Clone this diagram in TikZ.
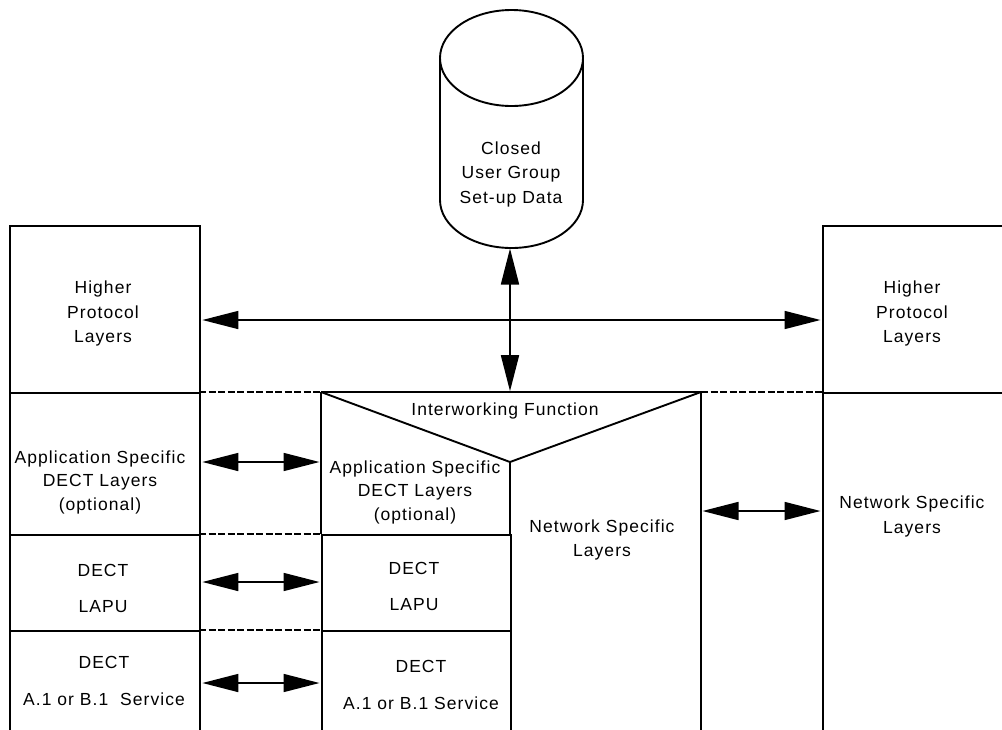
\documentclass[tikz,border=0pt]{standalone}
\usepackage{fontspec}
\setmainfont{Liberation Sans}[LetterSpace=6]
\usetikzlibrary{arrows.meta}
\begin{document}
\begin{tikzpicture}[x=1pt,y=-1pt,
  ln/.style={line width=1.9pt},
  dsh/.style={line width=1.4pt, dash pattern=on 7pt off 2.5pt},
  box/.style={draw, line width=1.9pt, rectangle, inner sep=0pt, anchor=north west},
  txt/.style={align=center, font=\fontsize{17.5}{24.5}\selectfont, inner sep=0pt},
  dbl/.style={line width=1.7pt, {Triangle[length=36pt,width=18pt]}-{Triangle[length=36pt,width=18pt]}, shorten <=1.5pt, shorten >=1.5pt}]
\useasboundingbox (0,0) rectangle (1002,729);
\clip (0,0) rectangle (1002,729);
% left column
\node[box, minimum width=190pt, minimum height=167pt] (lhp) at (9,225) {};
\node[box, minimum width=190pt, minimum height=142pt] (las) at (9,392) {};
\node[box, minimum width=190pt, minimum height=96pt] (llapu) at (9,534) {};
\node[box, minimum width=190pt, minimum height=140pt] (lserv) at (9,630) {};
% centre column
\node[box, minimum width=189pt, minimum height=96pt] (clapu) at (321,534) {};
\node[box, minimum width=189pt, minimum height=140pt] (cserv) at (321,630) {};
\coordinate (cl) at (321,0);
\coordinate (cr) at (701,0);
\draw[ln] (321,392) -- (701,392);
\draw[ln, line join=bevel] (321,392) -- (510,462) -- (701,392);
\draw[ln] (321,392) -- (321,534);
\draw[ln] (510,462) -- (510,534);
\draw[ln] (701,392) -- (701,760);
% right column
\node[box, minimum width=200pt, minimum height=167pt] (rhp) at (822,225) {};
\node[box, minimum width=200pt, minimum height=400pt] (rnet) at (822,392) {};
% dashed joins
\draw[dsh] (199,392) -- (321,392);
\draw[dsh] (701,392) -- (822,392);
\draw[dsh] (199,534) -- (321,534);
\draw[dsh] (199,630) -- (321,630);
% cylinder
\draw[ln] (440,58) -- (440,200) arc[start angle=180, end angle=360, x radius=71.5pt, y radius=48pt] -- (583,58);
\draw[ln] (511.5,58) ellipse[x radius=71.5pt, y radius=48pt];
\node[txt] (db) at (511,174) {Closed\\User Group\\Set-up Data};
\coordinate (dbbot) at (510,248);
\coordinate (iwftop) at (510,392);
% texts
\node[txt] (lhpT) at (103,313.5) {Higher\\Protocol\\Layers};
\node[txt] (rhpT) at (912,313.5) {Higher\\Protocol\\Layers};
\node[txt, font=\fontsize{17.5}{23.5}\selectfont] (lasT) at (100,482) {Application Specific\\DECT Layers\\(optional)};
\node[txt] (llapuT) at (103,588.5) {DECT\\[12pt]LAPU};
\node[txt] (lservT) at (104,681) {DECT\\[12pt]A.1 or B.1\ \ Service};
\node[txt] (iwfT) at (505,411) {Interworking Function};
\node[txt, font=\fontsize{17.5}{23.5}\selectfont] (casT) at (415,492) {Application Specific\\DECT Layers\\(optional)};
\node[txt] (clapuT) at (414,586.5) {DECT\\[12pt]LAPU};
\node[txt] (cservT) at (421,685) {DECT\\[12pt]A.1 or B.1 Service};
\node[txt] (cnetT) at (602,540) {Network Specific\\Layers};
\node[txt] (rnetT) at (912,516.5) {Network Specific\\Layers};
% arrows
\coordinate (hy) at (0,320);
\coordinate (a1) at (0,462);
\coordinate (a2) at (0,582);
\coordinate (a3) at (0,683);
\coordinate (a4) at (0,511);
\draw[dbl] (lhp.east |- hy) -- (rhp.west |- hy);
\draw[dbl, shorten <=0.5pt, shorten >=0.8pt] (dbbot) -- (iwftop);
\draw[dbl] (las.east |- a1) -- (cl |- a1);
\draw[dbl] (llapu.east |- a2) -- (clapu.west |- a2);
\draw[dbl] (lserv.east |- a3) -- (cserv.west |- a3);
\draw[dbl] (cr |- a4) -- (rnet.west |- a4);
\end{tikzpicture}
\end{document}
